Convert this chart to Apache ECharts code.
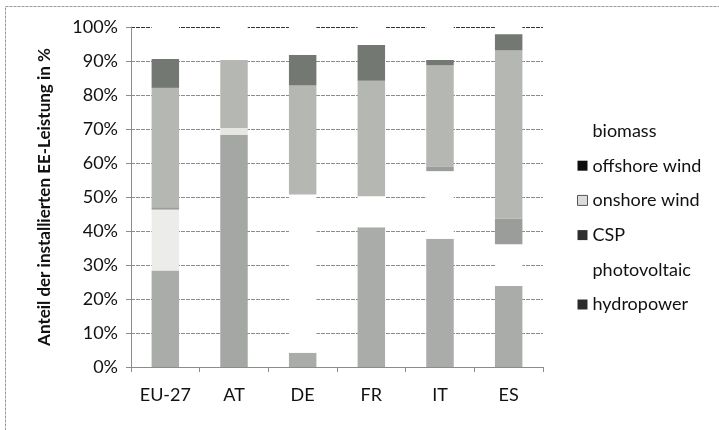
<!DOCTYPE html>
<html>
<head>
<meta charset="utf-8">
<script src="https://cdn.jsdelivr.net/npm/echarts@6/dist/echarts.min.js"></script>
<style>html,body{margin:0;padding:0;background:#fff}#c{width:719px;height:430px}</style>
</head>
<body>
<div id="c"></div>
<script>
var categories = ['EU-27', 'AT', 'DE', 'FR', 'IT', 'ES'];
var hydropower = [28.4, 68.3, 4.2, 41.1, 37.7, 23.8];
var photovoltaic = [17.9, 2.0, 46.5, 9.1, 19.9, 12.3];
var csp = [0.7, 0, 0, 0, 1.4, 7.5];
var onshoreWind = [35.1, 20.0, 32.1, 34.0, 29.7, 49.5];
var offshoreWind = [8.5, 0, 9.0, 10.5, 1.6, 4.8];
var biomass = [9.4, 9.7, 8.2, 5.3, 9.7, 2.1];
var yTicks = [0, 10, 20, 30, 40, 50, 60, 70, 80, 90, 100];

var FONT = 'Lato';
// styles (separate from data)
var pvColors = ['#ecedea', '#e6e7e3', '#ffffff', '#ffffff', '#ffffff', '#ffffff'];
var hydroColors = ['#a9aca8', '#a4a7a3', '#a9aca8', '#a9aca8', '#a9aca8', '#a9aca8'];

function withColors(vals, cols) {
  return vals.map(function (v, i) { return { value: v, itemStyle: { color: cols[i] } }; });
}

var seriesDefs = [
  { name: 'hydropower', data: withColors(hydropower, hydroColors), color: '#a9aca8', legendColor: '#2b2b2b' },
  { name: 'photovoltaic', data: withColors(photovoltaic, pvColors), color: '#ffffff', legendColor: '#ffffff' },
  { name: 'CSP', data: csp, color: '#9a9d99', legendColor: '#2e2e2e' },
  { name: 'onshore wind', data: onshoreWind, color: '#b5b7b3', legendColor: '#dcdcdc' },
  { name: 'offshore wind', data: offshoreWind, color: '#737873', legendColor: '#0d0d0d' },
  { name: 'biomass', data: biomass, color: '#ffffff', legendColor: '#ffffff' }
];

var series = seriesDefs.map(function (s) {
  return {
    name: s.name,
    type: 'bar',
    stack: 'total',
    barWidth: '40%',
    data: s.data,
    itemStyle: { color: s.color },
    emphasis: { disabled: true }
  };
});

var legendData = seriesDefs.slice().reverse().map(function (s) {
  return { name: s.name, itemStyle: { color: s.legendColor, borderColor: s.name === 'onshore wind' ? '#555' : s.legendColor, borderWidth: s.name === 'onshore wind' ? 1 : 0 } };
});

var gridColors = yTicks.map(function (t) { return t === 100 ? '#333333' : '#8c8c8c'; });

var chart = echarts.init(document.getElementById('c'), null, { renderer: 'canvas' });
chart.setOption({
  animation: false,
  backgroundColor: '#ffffff',
  grid: { left: 131, right: 176, top: 27, bottom: 63, containLabel: false },
  legend: {
    orient: 'vertical',
    left: 572,
    top: 116,
    icon: 'rect',
    itemWidth: 10,
    itemHeight: 10,
    itemGap: 14.7,
    selectedMode: false,
    data: legendData,
    textStyle: { fontFamily: FONT, fontSize: 18, color: '#111', lineHeight: 20 }
  },
  xAxis: {
    type: 'category',
    data: categories,
    axisLine: { lineStyle: { color: '#8c8c8c' } },
    axisTick: { show: true, length: 5, lineStyle: { color: '#8c8c8c' } },
    axisLabel: { fontFamily: FONT, fontSize: 18, color: '#111', margin: 19 }
  },
  yAxis: {
    type: 'value',
    min: 0,
    max: 100,
    interval: 10,
    name: 'Anteil der installierten EE-Leistung in %',
    nameLocation: 'middle',
    nameRotate: 90,
    nameGap: 78,
    nameTextStyle: { fontFamily: FONT, fontSize: 17, fontWeight: 'bold', color: '#111' },
    axisLine: { show: true, lineStyle: { color: '#8c8c8c' } },
    axisTick: { show: true, length: 5, lineStyle: { color: '#8c8c8c' } },
    axisLabel: { fontFamily: FONT, fontSize: 18, color: '#111', margin: 13, formatter: '{value}%' },
    splitLine: { show: true, lineStyle: { color: gridColors, width: 1, type: [4, 1] } }
  },
  graphic: [
    { type: 'rect', silent: true, shape: { x: 5.5, y: 6.5, width: 900, height: 600 },
      style: { fill: 'none', stroke: '#9a9a9a', lineWidth: 1, lineDash: [3, 1] } }
  ],
  series: series
});
</script>
</body>
</html>
